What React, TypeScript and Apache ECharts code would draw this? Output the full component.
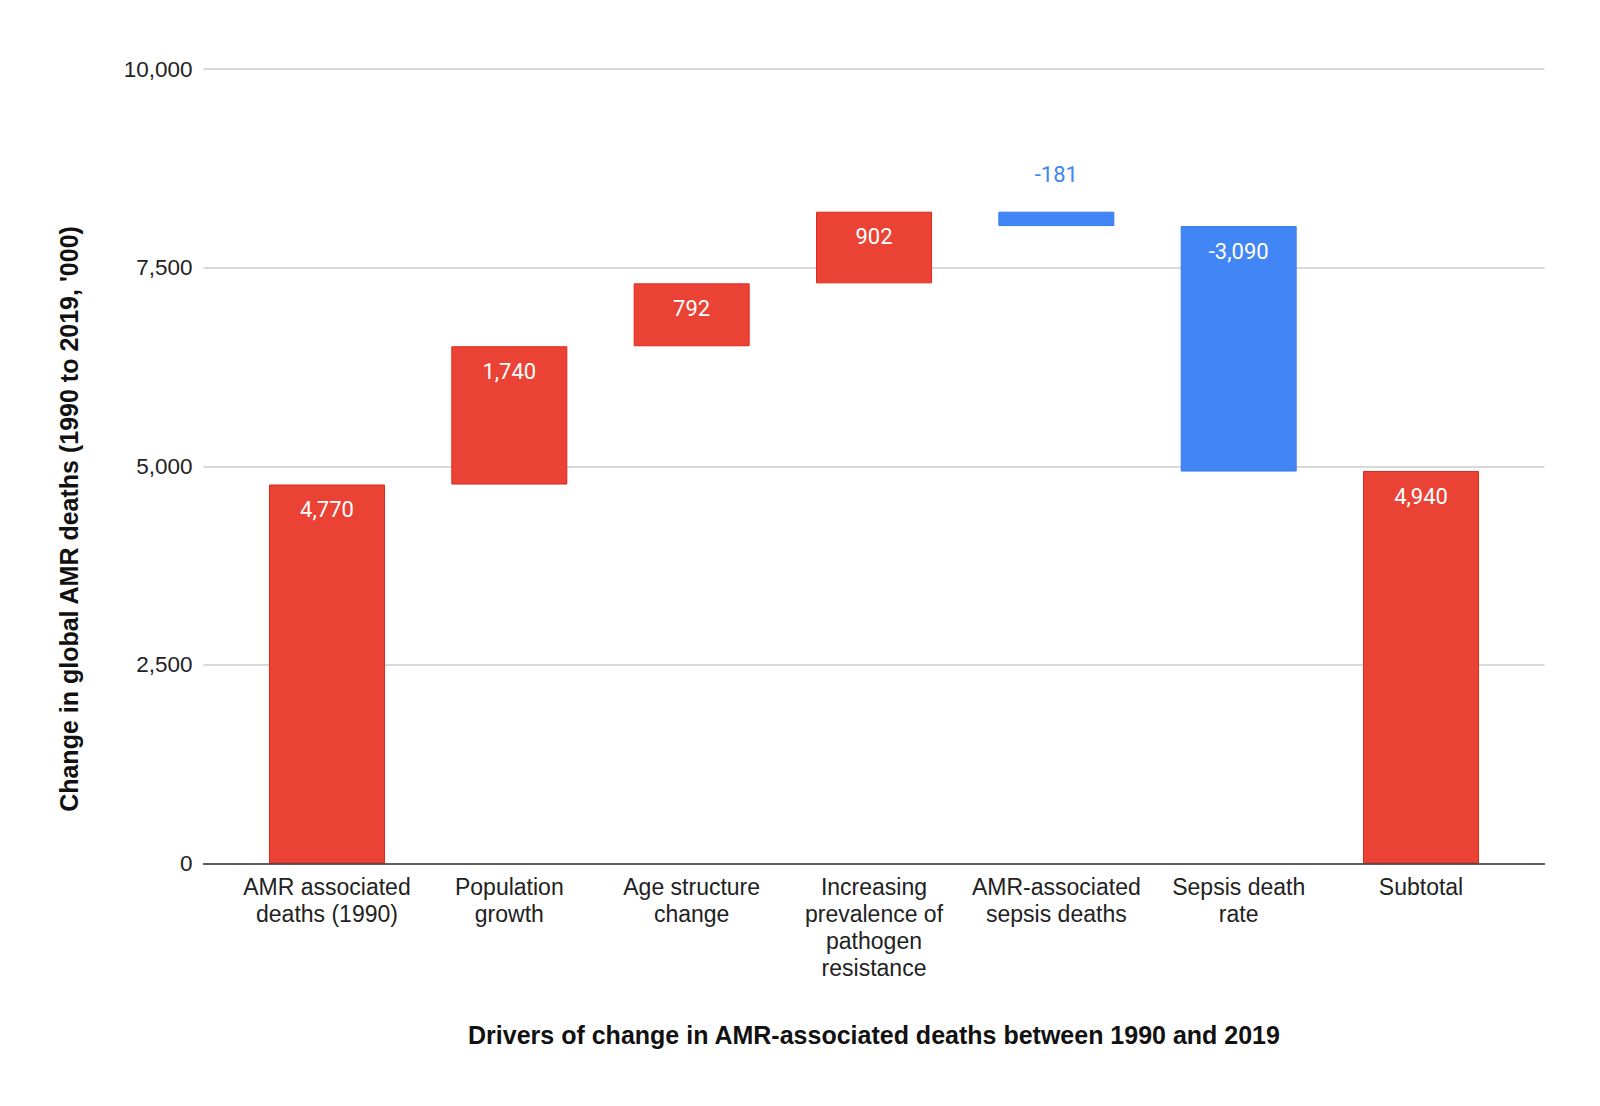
import React, { useEffect, useRef } from "react";
import * as echarts from "echarts";

const categories = [
  "AMR associated\ndeaths (1990)",
  "Population\ngrowth",
  "Age structure\nchange",
  "Increasing\nprevalence of\npathogen\nresistance",
  "AMR-associated\nsepsis deaths",
  "Sepsis death\nrate",
  "Subtotal",
];
// first is the starting total, then the changes, last is the subtotal
const startValue = 4770;
const changes = [1740, 792, 902, -181, -3090];
const subtotalValue = 4940;
const yTicks = { min: 0, max: 10000, interval: 2500 };

const RED = "#EA4335";
const BLUE = "#4285F4";

function fmt(v: number) {
  const s = Math.abs(v).toLocaleString("en-US");
  return v < 0 ? "-" + s : s;
}

export default function App() {
  const ref = useRef<HTMLDivElement>(null);
  useEffect(() => {
    document.body.style.margin = "0";
    const chart = echarts.init(ref.current!, null, { renderer: "svg" });

    // build waterfall from the arrays
    const base: number[] = [0];
    const visible: any[] = [];
    visible.push({ value: startValue, label: fmt(startValue), color: RED });
    let running = startValue;
    changes.forEach((c) => {
      const next = running + c;
      base.push(Math.min(running, next));
      visible.push({ value: Math.abs(c), label: fmt(c), color: c >= 0 ? RED : BLUE });
      running = next;
    });
    base.push(0);
    visible.push({ value: subtotalValue, label: fmt(subtotalValue), color: RED });

    const pxPerUnit = (863.5 - 69) / (yTicks.max - yTicks.min);

    const visData = visible.map((d) => {
      const small = d.value * pxPerUnit < 40;
      return {
        value: d.value,
        itemStyle: {
          color: d.color,
          borderColor: d.color === RED ? "#E0281B" : "#3A7BEF",
          borderWidth: 1,
        },
        label: small
          ? { show: true, position: "top", distance: 26, color: BLUE, formatter: d.label }
          : { show: true, position: "insideTop", distance: 14, color: "#ffffff", formatter: d.label },
      };
    });

    const labelFont = "Liberation Sans, Arial, sans-serif";

    chart.setOption({
      animation: false,
      backgroundColor: "#ffffff",
      grid: [
        { left: 203.5, right: 1600 - 1544.5, top: 69, bottom: 1106 - 863.5 },
        { left: 235.8, right: 1600 - 1512.2, top: 69, bottom: 1106 - 863.5 },
      ],
      xAxis: [
        {
          gridIndex: 0,
          type: "category",
          data: [""],
          axisLine: { show: true, lineStyle: { color: "#333333", width: 1.5 } },
          axisTick: { show: false },
          axisLabel: { show: false },
          z: 5,
        },
        {
          gridIndex: 1,
          type: "category",
          data: categories,
          axisLine: { show: false },
          axisTick: { show: false },
          axisLabel: {
            interval: 0,
            margin: 10,
            fontFamily: labelFont,
            fontSize: 23,
            lineHeight: 27,
            color: "#222222",
            align: "center",
          },
          name: "Drivers of change in AMR-associated deaths between 1990 and 2019",
          nameLocation: "middle",
          nameGap: 159,
          nameTextStyle: {
            fontFamily: labelFont,
            fontSize: 25,
            fontWeight: "bold",
            color: "#111111",
          },
        },
      ],
      yAxis: [
        {
          gridIndex: 0,
          type: "value",
          min: yTicks.min,
          max: yTicks.max,
          interval: yTicks.interval,
          axisLine: { show: false },
          axisTick: { show: false },
          splitLine: { show: true, lineStyle: { color: "#cccccc", width: 1.5 } },
          axisLabel: {
            margin: 11,
            fontFamily: labelFont,
            fontSize: 22.5,
            color: "#222222",
            formatter: (v: number) => v.toLocaleString("en-US"),
          },
        },
        {
          gridIndex: 1,
          type: "value",
          min: yTicks.min,
          max: yTicks.max,
          interval: yTicks.interval,
          show: false,
          splitLine: { show: false },
        },
      ],
      graphic: [
        {
          type: "text",
          x: 69,
          y: 519,
          rotation: Math.PI / 2,
          style: {
            text: "Change in global AMR deaths (1990 to 2019, '000)",
            font: "bold 25px Liberation Sans, Arial, sans-serif",
            fill: "#111111",
            textAlign: "center",
            textVerticalAlign: "middle",
          },
        },
      ],
      series: [
        {
          type: "bar",
          xAxisIndex: 1,
          yAxisIndex: 1,
          stack: "wf",
          barWidth: 116,
          silent: true,
          itemStyle: { color: "transparent" },
          data: base,
        },
        {
          type: "bar",
          xAxisIndex: 1,
          yAxisIndex: 1,
          stack: "wf",
          barWidth: 116,
          label: {
            show: true,
            fontFamily: "Roboto, sans-serif",
            fontSize: 22,
          },
          data: visData,
        },
      ],
    });
    return () => chart.dispose();
  }, []);
  return <div ref={ref} style={{ width: 1600, height: 1106 }} />;
}
